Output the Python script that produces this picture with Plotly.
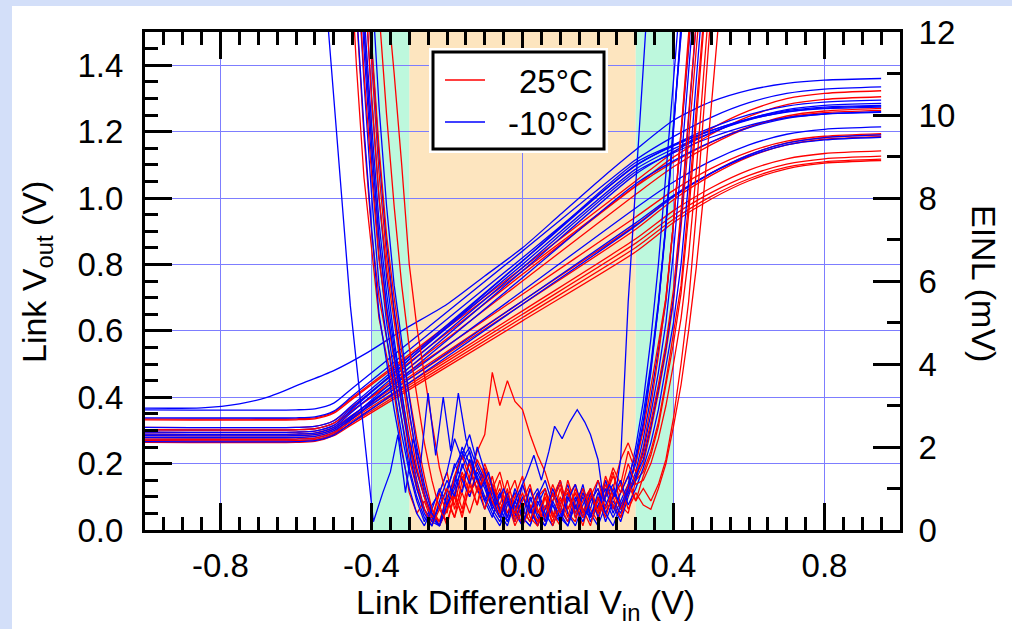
import plotly.graph_objects as go

FONT = "Liberation Sans, Arial, Helvetica, sans-serif"
RED = "#ff0000"
BLUE = "#0000ff"
GRID = "#7d7dff"

# ---------------- data ----------------
# Link transfer curves: Vout (V) vs differential Vin (V)
VIN_T = [-1.0, -0.6, -0.55, -0.5, -0.45, 0.0, 0.3, 0.4, 0.5, 0.6, 0.7, 0.8, 0.95]

VOUT_25C = [
    [0.335, 0.335, 0.338, 0.355, 0.399, 0.79, 1.051, 1.138, 1.209, 1.263, 1.299, 1.315, 1.323],
    [0.332, 0.332, 0.335, 0.352, 0.395, 0.78, 1.037, 1.123, 1.192, 1.246, 1.281, 1.297, 1.305],
    [0.309, 0.309, 0.312, 0.329, 0.373, 0.77, 1.035, 1.108, 1.168, 1.214, 1.243, 1.257, 1.264],
    [0.295, 0.295, 0.298, 0.315, 0.359, 0.75, 1.011, 1.094, 1.161, 1.213, 1.247, 1.262, 1.270],
    [0.302, 0.302, 0.305, 0.322, 0.361, 0.71, 0.943, 1.023, 1.089, 1.139, 1.171, 1.186, 1.194],
    [0.289, 0.289, 0.292, 0.309, 0.347, 0.69, 0.919, 1.006, 1.076, 1.130, 1.166, 1.182, 1.190],
    [0.284, 0.284, 0.287, 0.304, 0.342, 0.68, 0.906, 0.995, 1.068, 1.124, 1.160, 1.177, 1.185],
    [0.279, 0.279, 0.282, 0.299, 0.335, 0.66, 0.877, 0.962, 1.031, 1.084, 1.118, 1.134, 1.142],
    [0.274, 0.274, 0.277, 0.294, 0.330, 0.65, 0.864, 0.948, 1.016, 1.068, 1.102, 1.118, 1.126],
    [0.269, 0.269, 0.272, 0.289, 0.324, 0.64, 0.851, 0.936, 1.005, 1.058, 1.093, 1.109, 1.117],
    [0.264, 0.264, 0.267, 0.284, 0.319, 0.63, 0.838, 0.926, 0.997, 1.052, 1.088, 1.105, 1.113],
]

VOUT_M10C = [
    [0.362, 0.362, 0.365, 0.382, 0.428, 0.84, 1.115, 1.185, 1.243, 1.287, 1.315, 1.328, 1.335],
    [0.338, 0.338, 0.341, 0.358, 0.404, 0.82, 1.097, 1.160, 1.212, 1.251, 1.277, 1.289, 1.295],
    [0.309, 0.309, 0.312, 0.329, 0.377, 0.81, 1.099, 1.157, 1.203, 1.239, 1.263, 1.274, 1.279],
    [0.302, 0.302, 0.305, 0.322, 0.370, 0.80, 1.087, 1.148, 1.197, 1.235, 1.260, 1.271, 1.277],
    [0.295, 0.295, 0.298, 0.315, 0.365, 0.81, 1.107, 1.160, 1.204, 1.237, 1.259, 1.269, 1.274],
    [0.289, 0.289, 0.292, 0.309, 0.357, 0.79, 1.079, 1.136, 1.183, 1.219, 1.242, 1.253, 1.258],
    [0.274, 0.274, 0.277, 0.294, 0.343, 0.78, 1.072, 1.140, 1.196, 1.238, 1.266, 1.279, 1.285],
    [0.269, 0.269, 0.272, 0.289, 0.336, 0.76, 1.043, 1.112, 1.169, 1.212, 1.240, 1.253, 1.260],
    [0.284, 0.284, 0.287, 0.304, 0.346, 0.72, 0.970, 1.048, 1.112, 1.160, 1.192, 1.207, 1.214],
    [0.279, 0.279, 0.282, 0.299, 0.338, 0.69, 0.925, 1.008, 1.075, 1.126, 1.160, 1.175, 1.183],
    [0.266, 0.266, 0.269, 0.286, 0.325, 0.68, 0.916, 1.004, 1.075, 1.130, 1.165, 1.182, 1.190],
]

# one -10C link that starts turning on early
VIN_T_EARLY = [-1.0, -0.85, -0.75, -0.675, -0.587, -0.5, -0.41, -0.32, -0.2, -0.1, 0.0,
               0.1, 0.2, 0.3, 0.4, 0.5, 0.6, 0.7, 0.8, 0.95]
VOUT_M10C_EARLY = [0.367, 0.368, 0.38, 0.40, 0.44, 0.48, 0.535, 0.60, 0.68, 0.765, 0.85,
                   0.95, 1.05, 1.145, 1.234, 1.29, 1.325, 1.345, 1.355, 1.36]

# EINL (mV) vs differential Vin (V)
VIN_E = [-0.46, -0.44, -0.42, -0.40, -0.38, -0.36, -0.34, -0.32, -0.30, -0.28,
         -0.26, -0.24, -0.22, -0.20, -0.18, -0.16, -0.14, -0.12, -0.10, -0.08,
         -0.06, -0.04, -0.02, 0.00, 0.02, 0.04, 0.06, 0.08, 0.10, 0.12,
         0.14, 0.16, 0.18, 0.20, 0.22, 0.24, 0.26, 0.28, 0.30, 0.32,
         0.34, 0.36, 0.38, 0.40, 0.42, 0.44, 0.46, 0.48, 0.50, 0.52, 0.54]

EINL_25C = [
    [17, 12.5, 9.5, 7.2, 5.6, 4.6, 3.6, 2.7, 1.7, 1.0,
     0.5, 0.2, 0.6, 0.1, 0.9, 1.3, 0.8, 1.5, 1.1, 0.6,
     1.2, 0.4, 0.9, 0.2, 0.6, 0.1, 0.8, 0.3, 1.0, 0.4,
     0.2, 0.9, 0.3, 0.7, 1.2, 0.5, 0.9, 1.3, 0.7, 1.0,
     0.7, 1.1, 1.7, 2.7, 4.0, 5.5, 7.6, 9.9, 12.4, 15, 17.5],
    [14.5, 11.2, 8.5, 6.8, 5.1, 4.2, 3.3, 2.0, 0.9, 0.4,
     0.7, 0.2, 0.9, 1.4, 0.5, 1.0, 1.7, 1.2, 0.7, 1.3,
     0.5, 0.9, 0.3, 1.1, 0.6, 0.2, 0.9, 0.4, 0.1, 0.8,
     1.1, 0.4, 0.9, 0.3, 0.8, 1.4, 0.6, 0.4, 1.2, 1.6,
     2.4, 3.3, 4.3, 5.5, 7.3, 9.4, 11.8, 14.2, 16.5, 18, 19],
    [19, 15.5, 12.2, 9.4, 7.0, 5.3, 4.1, 3.0, 2.1, 1.4,
     0.8, 0.4, 0.2, 0.8, 1.1, 0.5, 1.3, 1.9, 2.3, 3.8,
     3.0, 3.6, 3.1, 2.9, 2.3, 1.8, 1.4, 0.8, 1.2, 0.5,
     0.9, 0.3, 0.7, 1.0, 0.4, 0.8, 0.3, 0.9, 1.3, 2.0,
     3.0, 4.2, 5.6, 7.4, 9.6, 12.0, 14.5, 17, 19, 20, 21],
    [22, 18, 14.5, 11.3, 8.6, 6.6, 5.2, 3.9, 2.8, 1.8,
     1.0, 0.5, 0.2, 0.7, 0.3, 1.2, 1.6, 0.9, 1.4, 0.6,
     1.0, 0.3, 0.8, 1.3, 0.5, 0.2, 0.5, 1.1, 0.6, 0.2,
     0.6, 0.1, 0.8, 0.4, 1.1, 0.6, 0.3, 0.9, 1.2, 1.4,
     1.9, 2.6, 3.6, 4.7, 5.9, 7.9, 10.2, 12.6, 15, 17, 19],
    [30, 26, 22, 18.5, 15.5, 13, 11, 8.8, 6.4, 4.9,
     3.7, 2.6, 1.5, 0.8, 0.3, 0.9, 0.4, 1.0, 1.6, 1.1,
     0.6, 1.2, 0.5, 0.1, 0.5, 0.9, 0.3, 0.7, 1.1, 0.5,
     0.9, 0.4, 1.0, 0.5, 1.3, 0.8, 1.1, 0.5, 0.9, 0.6,
     0.5, 1.0, 1.6, 2.5, 3.5, 4.8, 6.3, 8.1, 10.1, 12.2, 14.4],
    [21, 17, 13.5, 10.4, 8.0, 6.3, 5.0, 3.8, 2.5, 1.5,
     0.8, 0.3, 0.9, 0.4, 1.3, 1.8, 1.2, 0.6, 1.5, 1.0,
     0.4, 0.8, 1.2, 0.5, 0.2, 0.8, 1.0, 0.3, 0.7, 0.9,
     0.4, 1.0, 0.5, 0.2, 0.9, 1.5, 1.1, 1.9, 1.4, 1.8,
     2.6, 3.5, 4.5, 5.8, 7.7, 10.0, 12.5, 15, 17, 19, 20],
    [24, 19, 15, 11.8, 9.2, 7.1, 5.6, 4.3, 3.2, 2.2,
     1.3, 0.5, 0.1, 0.5, 0.9, 0.3, 1.1, 1.7, 1.3, 0.7,
     0.3, 0.7, 0.1, 0.5, 1.0, 0.5, 0.2, 0.9, 0.4, 1.2,
     0.6, 0.3, 0.8, 1.2, 0.5, 1.0, 1.7, 2.1, 1.6, 2.4,
     3.4, 4.5, 5.6, 7.4, 9.6, 12.1, 14.6, 17, 19, 20, 21],
    [18, 14, 11, 8.6, 6.5, 5.2, 4.1, 3.1, 2.0, 1.1,
     0.5, 0.1, 0.5, 1.0, 0.6, 1.4, 0.9, 1.2, 0.5, 1.0,
     1.4, 0.7, 0.4, 0.9, 0.3, 0.1, 0.6, 0.2, 0.8, 0.3,
     1.0, 0.5, 0.1, 0.8, 0.3, 0.9, 0.5, 1.1, 0.7, 1.3,
     1.8, 2.5, 3.5, 4.5, 5.7, 7.6, 9.8, 12.2, 14.6, 17, 19],
    [27, 23, 19, 15.5, 12.5, 10, 7.8, 5.9, 4.4, 3.2,
     2.1, 1.2, 0.5, 0.2, 0.8, 0.4, 1.1, 0.6, 1.3, 0.9,
     0.4, 1.0, 0.2, 0.7, 1.1, 0.4, 0.8, 0.1, 0.6, 1.0,
     0.3, 0.7, 1.0, 0.4, 0.8, 1.3, 0.9, 1.6, 1.1, 1.2,
     1.6, 2.2, 3.0, 4.0, 5.1, 6.6, 8.6, 11.0, 13.5, 16, 18],
]

EINL_M10C = [
    [19, 15, 11.6, 8.9, 6.6, 5.0, 3.8, 2.6, 1.5, 0.8,
     0.3, 0.1, 0.6, 1.0, 1.5, 1.9, 1.4, 1.0, 0.5, 1.1,
     0.4, 0.1, 0.7, 0.3, 0.1, 0.6, 1.0, 0.4, 0.2, 0.9,
     0.5, 1.1, 0.3, 0.8, 0.2, 0.7, 0.4, 1.0, 1.6, 2.5,
     3.8, 5.4, 7.4, 9.8, 12.4, 15, 17.5, 20, 22, 23, 24],
    [21, 17, 13.5, 10.5, 8.0, 6.1, 4.6, 3.3, 2.1, 1.2,
     0.5, 0.2, 0.1, 0.5, 1.2, 2.0, 1.6, 1.2, 0.7, 0.3,
     0.9, 0.2, 0.6, 0.1, 0.8, 0.3, 0.1, 0.7, 1.2, 0.4,
     0.1, 0.6, 1.0, 0.3, 0.8, 1.1, 0.5, 0.9, 1.4, 2.2,
     3.2, 4.3, 5.5, 7.4, 9.7, 12.2, 14.8, 17, 19, 20, 21],
    [20, 16, 12.5, 9.8, 7.4, 5.7, 4.4, 3.3, 2.2, 1.4,
     0.8, 0.3, 0.1, 0.7, 1.3, 0.9, 1.7, 1.3, 0.8, 0.4,
     0.1, 0.6, 0.9, 0.3, 0.1, 0.7, 0.3, 1.0, 0.5, 0.2,
     0.8, 0.3, 0.9, 0.4, 1.2, 0.6, 0.2, 0.8, 1.3, 1.7,
     2.5, 3.4, 4.4, 5.6, 7.5, 9.9, 12.4, 15, 17, 19, 20],
    [18, 14, 10.8, 8.1, 5.9, 4.6, 3.4, 2.3, 1.4, 0.7,
     0.2, 0.6, 0.9, 1.4, 2.2, 1.7, 2.0, 1.5, 1.1, 0.5,
     0.9, 0.3, 1.0, 0.5, 0.2, 0.8, 1.2, 0.6, 0.3, 0.8,
     0.4, 0.9, 0.5, 1.2, 0.7, 0.3, 0.7, 1.1, 2.0, 3.1,
     4.6, 6.4, 8.6, 11.1, 13.8, 16.5, 19, 21, 22, 23, 24],
    [23, 19, 15, 11.7, 9.0, 6.9, 5.3, 4.0, 2.8, 1.7,
     0.9, 0.3, 0.1, 0.9, 1.6, 1.2, 0.8, 1.4, 1.0, 0.5,
     0.2, 0.8, 0.4, 1.1, 0.5, 0.1, 0.5, 0.9, 0.4, 0.1,
     0.7, 1.0, 0.4, 0.1, 0.6, 1.0, 0.5, 0.9, 1.2, 1.9,
     2.8, 3.8, 5.0, 6.7, 8.8, 11.3, 13.9, 16.5, 19, 20, 21],
    [16, 12.6, 9.7, 7.3, 5.2, 4.0, 2.9, 1.9, 1.0, 0.4,
     0.1, 0.5, 1.0, 0.6, 1.1, 1.8, 2.3, 1.6, 1.2, 0.6,
     0.3, 0.9, 0.4, 0.1, 0.7, 1.0, 0.4, 0.1, 0.6, 1.1,
     0.3, 0.8, 0.2, 0.6, 1.0, 0.4, 0.9, 1.3, 1.8, 2.8,
     4.0, 5.5, 7.4, 9.7, 12.2, 14.8, 17.5, 20, 22, 23, 24],
    [25, 21, 17, 13.3, 10.2, 7.8, 5.9, 4.5, 3.2, 2.0,
     1.1, 0.4, 0.1, 0.6, 1.0, 1.5, 1.9, 1.2, 0.7, 1.0,
     0.5, 0.2, 0.7, 0.3, 1.0, 0.4, 0.1, 0.6, 0.2, 0.7,
     1.1, 0.5, 0.3, 0.9, 0.4, 0.8, 1.2, 0.6, 1.0, 1.5,
     2.1, 2.9, 3.9, 5.0, 6.4, 8.4, 10.8, 13.3, 16, 18, 20],
    [19.5, 15.5, 12.0, 9.3, 7.0, 5.4, 4.2, 3.0, 1.9, 1.0,
     0.4, 0.1, 0.7, 1.2, 0.8, 1.6, 1.1, 2.0, 1.4, 0.8,
     0.3, 0.7, 0.2, 0.8, 0.4, 0.9, 0.2, 0.7, 0.3, 0.1,
     0.6, 0.2, 0.7, 1.0, 0.4, 0.1, 0.6, 1.0, 1.7, 2.6,
     3.9, 5.4, 7.3, 9.6, 12.2, 14.8, 17.5, 20, 22, 23, 24],
]

# one -10C link with a much wider low-EINL window
VIN_E_WIDE = [-0.54, -0.514, -0.456, -0.395, -0.37, -0.35, -0.33, -0.31, -0.29, -0.27,
              -0.25, -0.23, -0.21, -0.19, -0.17, -0.15, -0.13, -0.11, -0.09, -0.07,
              -0.05, -0.03, -0.01, 0.01, 0.03, 0.05, 0.07, 0.085, 0.105, 0.125,
              0.145, 0.165, 0.18, 0.2, 0.215, 0.23, 0.245, 0.26, 0.28, 0.326, 0.35]
EINL_M10C_WIDE = [15, 12, 5.4, 0.2, 0.9, 1.4, 2.3, 0.9, 2.2, 1.6,
                  3.3, 1.8, 3.2, 1.9, 3.3, 2.2, 1.5, 1.0, 1.4, 0.6,
                  1.0, 0.5, 0.9, 1.3, 1.8, 1.2, 1.9, 2.5, 2.2, 2.6,
                  2.9, 2.6, 2.3, 1.7, 0.7, 1.1, 0.8, 1.7, 5.5, 12, 15]

GREEN_BANDS = [(-0.4, -0.3), (0.3, 0.4)]
ORANGE_BAND = (-0.3, 0.3)
LEGEND_ITEMS = [("25°C", RED, 80), ("-10°C", BLUE, 122)]

X_TICKS = [-0.8, -0.4, 0.0, 0.4, 0.8]
X_LABELS = ["-0.8", "-0.4", "0.0", "0.4", "0.8"]

# ---------------- geometry (page pixels) ----------------
W, H = 1012, 629
PL, PR, PT, PB = 145, 900, 32, 530


def px(x):
    return (x - PL) / (PR - PL)


def py(y):
    return (PB - y) / (PB - PT)


fig = go.Figure()


def add_line(x, y, color, yaxis="y", shape="linear"):
    fig.add_trace(go.Scatter(
        x=x, y=y, mode="lines", yaxis=yaxis, hoverinfo="skip", showlegend=False,
        line=dict(color=color, width=1.3, shape=shape, smoothing=0.7 if shape == "spline" else None),
    ))


# transfer curves, interleaved like the measurement overlay
for i in range(max(len(VOUT_25C), len(VOUT_M10C))):
    if i < len(VOUT_25C):
        add_line(VIN_T, VOUT_25C[i], RED, shape="spline")
    if i < len(VOUT_M10C):
        add_line(VIN_T, VOUT_M10C[i], BLUE, shape="spline")
add_line(VIN_T_EARLY, VOUT_M10C_EARLY, BLUE, shape="spline")

# EINL curves on the right axis
for i in range(max(len(EINL_25C), len(EINL_M10C))):
    if i < len(EINL_25C):
        add_line(VIN_E, EINL_25C[i], RED, yaxis="y2")
    if i < len(EINL_M10C):
        add_line(VIN_E, EINL_M10C[i], BLUE, yaxis="y2")
add_line(VIN_E_WIDE, EINL_M10C_WIDE, BLUE, yaxis="y2")

shapes = [
    # white slide panel
    dict(type="rect", xref="paper", yref="paper", x0=px(12), x1=px(W + 5), y0=py(H + 5), y1=py(6),
         fillcolor="white", line=dict(width=0), layer="below"),
    dict(type="rect", xref="x", yref="paper", x0=ORANGE_BAND[0], x1=ORANGE_BAND[1], y0=0, y1=1,
         fillcolor="#fde5bf", line=dict(width=0), layer="below"),
]
for a, b in GREEN_BANDS:
    shapes.append(dict(type="rect", xref="x", yref="paper", x0=a, x1=b, y0=0, y1=1,
                       fillcolor="#bdf8dd", line=dict(width=0), layer="below"))

# legend box
shapes.append(dict(type="rect", xref="paper", yref="paper", x0=px(429), x1=px(608), y0=py(153), y1=py(48),
                   fillcolor="white", line=dict(width=0), layer="above"))
shapes.append(dict(type="rect", xref="paper", yref="paper", x0=px(433), x1=px(604), y0=py(149), y1=py(52),
                   fillcolor="white", line=dict(color="black", width=3), layer="above"))
annotations = []
for label, color, ypix in LEGEND_ITEMS:
    shapes.append(dict(type="line", xref="paper", yref="paper", x0=px(445), x1=px(485), y0=py(ypix), y1=py(ypix),
                       line=dict(color=color, width=1.3), layer="above"))
    annotations.append(dict(text=label, xref="paper", yref="paper", x=px(595), y=py(ypix + 1),
                            xanchor="right", yanchor="middle", showarrow=False, font=dict(size=33)))

# axis titles
annotations.append(dict(text="Link Differential V<sub>in</sub> (V)", xref="paper", yref="paper",
                        x=px(525), y=py(604), xanchor="center", yanchor="middle", showarrow=False,
                        font=dict(size=34)))
annotations.append(dict(text="Link V<sub>out</sub> (V)", xref="paper", yref="paper",
                        x=px(36), y=py(272), xanchor="center", yanchor="middle", showarrow=False,
                        textangle=-90, font=dict(size=34)))
annotations.append(dict(text="EINL (mV)", xref="paper", yref="paper",
                        x=px(984), y=py(283), xanchor="center", yanchor="middle", showarrow=False,
                        textangle=90, font=dict(size=34)))

tick_common = dict(ticks="inside", ticklen=27, tickwidth=2.5, tickcolor="black",
                   showline=True, linewidth=3, linecolor="black", zeroline=False,
                   tickfont=dict(size=33))

fig.update_layout(
    width=W, height=H,
    margin=dict(l=PL, r=W - PR, t=PT, b=H - PB),
    paper_bgcolor="#d3dff9",
    plot_bgcolor="rgba(0,0,0,0)",
    font=dict(family=FONT, size=33, color="black"),
    showlegend=False,
    shapes=shapes,
    annotations=annotations,
    xaxis=dict(range=[-1, 1], tickmode="array", tickvals=X_TICKS, ticktext=X_LABELS,
               mirror="ticks", showgrid=True, gridcolor=GRID, gridwidth=1, ticklabelstandoff=4,
               minor=dict(dtick=0.05, tick0=0, ticks="inside", ticklen=13, tickwidth=2.5,
                          tickcolor="black", showgrid=False),
               **tick_common),
    yaxis=dict(range=[0, 1.5], dtick=0.2, tick0=0, tickformat=".1f", ticklabelstandoff=12,
               showgrid=True, gridcolor=GRID, gridwidth=1,
               minor=dict(dtick=0.05, tick0=0, ticks="inside", ticklen=13, tickwidth=2.5,
                          tickcolor="black", showgrid=False),
               **tick_common),
    yaxis2=dict(range=[0, 12], dtick=2, tick0=0, overlaying="y", side="right", showgrid=False,
                ticklabelstandoff=9,
                minor=dict(dtick=1, tick0=0, ticks="inside", ticklen=13, tickwidth=2.5,
                           tickcolor="black", showgrid=False),
                **tick_common),
)

fig.write_html("out.html", config={"displayModeBar": False},
               post_script="document.body.style.margin='0px';")
